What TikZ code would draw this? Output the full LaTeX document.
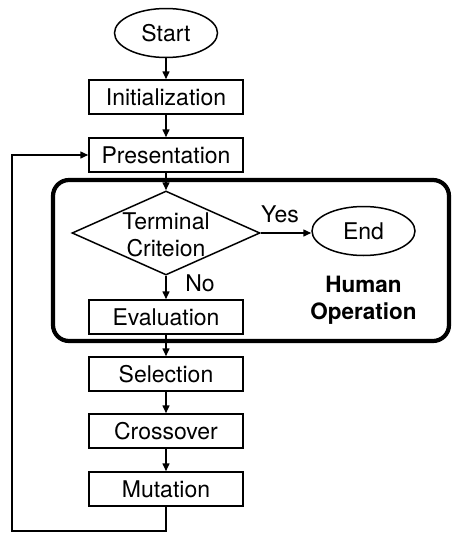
\documentclass[tikz,border=0pt]{standalone}
\usepackage{fontspec}
\setmainfont{TeX Gyre Heros}
\usetikzlibrary{arrows.meta,shapes.geometric}
\begin{document}
\begin{tikzpicture}[x=1pt,y=-1pt,
  every node/.style={font=\fontsize{23}{26.5}\selectfont, inner sep=0pt},
  procbox/.style={draw, line width=1.5pt, minimum width=154pt, minimum height=34pt},
  term/.style={draw, ellipse, line width=1.5pt, minimum width=103pt, minimum height=49pt},
  decis/.style={draw, diamond, line width=1.5pt, minimum width=188pt, minimum height=84pt, aspect=2.2, align=center},
  arr/.style={line width=1.5pt, -{Triangle[length=8pt,width=7pt]}},
  lbl/.style={fill=none}]
\useasboundingbox (0,0) rectangle (452,533);
\draw[line width=4.2pt, rounded corners=16pt] (53,180) rectangle (449,341);
\node[term] (start) at (166,33) {Start};
\node[procbox] (init) at (166,97) {Initialization};
\node[procbox] (pres) at (166,155) {Presentation};
\node[decis] (crit) at (166,233) {};
\node (critT) at (166,235) [align=center] {Terminal\\Criteion};
\node[term] (endn) at (363.5,231) {End};
\node[procbox] (eval) at (166,317) {Evaluation};
\node[procbox] (sel) at (166,374) {Selection};
\node[procbox] (cross) at (166,431) {Crossover};
\node[procbox] (mut) at (166,489) {Mutation};
\node[lbl] (yes) at (280,214) {Yes};
\node[lbl] (no) at (200,283) {No};
\node[align=center, font=\fontsize{22.5}{26.5}\selectfont\bfseries] (human) at (363.5,300) {Human\\Operation};
\coordinate (c1) at (166,531);
\coordinate (c2) at (12,531);
\coordinate (c3) at (12,155);
\draw[arr] (start) -- (init);
\draw[arr] (init) -- (pres);
\draw[arr] (pres) -- (crit.north);
\draw[arr] (crit.east) -- (endn.west |- crit.east);
\draw[arr] (crit.south) -- (eval);
\draw[arr] (eval) -- (sel);
\draw[arr] (sel) -- (cross);
\draw[arr] (cross) -- (mut);
\draw[arr] (mut.south) -- (c1) -- (c2) -- (c3) -- (pres.west);
\end{tikzpicture}
\end{document}
